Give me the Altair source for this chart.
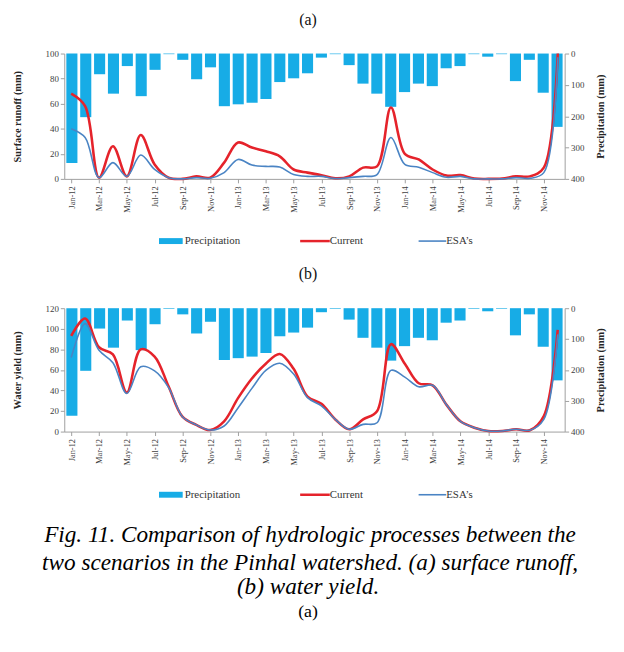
import altair as alt
import pandas as pd

months = ["Jan-12","Feb-12","Mar-12","Apr-12","May-12","Jun-12","Jul-12","Aug-12","Sep-12","Oct-12","Nov-12","Dec-12",
          "Jan-13","Feb-13","Mar-13","Apr-13","May-13","Jun-13","Jul-13","Aug-13","Sep-13","Oct-13","Nov-13","Dec-13",
          "Jan-14","Feb-14","Mar-14","Apr-14","May-14","Jun-14","Jul-14","Aug-14","Sep-14","Oct-14","Nov-14","Dec-14"]
tick_months = months[::2]

precip = [349, 203, 66, 128, 40, 136, 52, 2, 20, 82, 44, 168, 162, 157, 145, 91, 79, 63, 13, 2, 37, 96, 128, 170,
          123, 96, 104, 47, 40, 2, 10, 2, 88, 20, 125, 234]

runoff_current = [68, 58, 1, 26, 2, 35, 11.5, 1, 0, 2, 1, 13, 29, 25, 22, 18, 7.5, 5, 3, 0.5, 2, 9, 10, 57,
                  20, 15.5, 7.5, 2.7, 3, 0.3, 0, 0.3, 2, 2, 9, 100]
runoff_esa = [40, 33, 1, 13, 2, 19, 7.5, 1, 0, 1, 0.5, 5, 15.5, 11, 10, 9.5, 3.5, 2, 2, 0.3, 1, 2, 3.5, 33,
              11.5, 9.3, 5, 1.3, 2, 0, 0, 0, 1, 0.5, 5, 97]

yield_current = [93, 110, 82, 75, 38, 80, 73, 44, 14.5, 6.5, 1.5, 10, 32.5, 51.6, 66, 75.5, 61, 34, 27, 11.8, 2.2,
                 11.8, 19.7, 85, 66, 47, 45, 26, 10, 3.8, 0.6, 0.6, 2.2, 1.3, 15, 99]
yield_esa = [72, 105, 79, 67, 37, 63, 59, 43, 14.5, 6.5, 1.5, 5.4, 23, 42, 59.5, 66.5, 56, 33, 25, 11.8, 2.2,
             7, 8.6, 59.5, 53, 43.6, 45, 26, 10, 3.8, 0.6, 0.6, 2.2, 1.3, 11.8, 94.5]

BLUE_BAR = "#17ACE6"
RED = "#E5232B"
ESA = "#4A84C4"
SERIF = "Liberation Serif"
AXIS_GRAY = "#A0A0A0"
LABEL = "#404040"

W, H = 616, 630
X0, X1 = 57, 564
A_TOP, A_BOT = 42, 169
B_TOP, B_BOT = 300, 425

df = pd.DataFrame({
    "month": months, "precip": precip,
    "rc": runoff_current, "re": runoff_esa,
    "yc": yield_current, "ye": yield_esa,
})

def xscale():
    return alt.Scale(domain=months, range=[X0, X1], paddingInner=0.2, paddingOuter=0.15)

def xaxis(bottom):
    return alt.Axis(orient="bottom", offset=bottom - H, values=tick_months, labelAngle=-90,
                    labelFont=SERIF, labelFontSize=8.5, labelColor=LABEL, labelPadding=3,
                    domainColor=AXIS_GRAY, tickColor=AXIS_GRAY, tickSize=4, title=None, grid=False)

def yleft(title, top, bot, maxv):
    return alt.Axis(orient="left", offset=-X0, values=list(range(0, maxv + 1, 20)), title=title,
                    titleFont=SERIF, titleFontSize=10.5, titleFontWeight="bold", titleColor="#262626",
                    titleX=-42, titleY=(top + bot) / 2, titleAngle=270,
                    labelFont=SERIF, labelFontSize=9, labelColor=LABEL, labelPadding=2,
                    domainColor=AXIS_GRAY, tickColor=AXIS_GRAY, tickSize=4, grid=False)

def yright(top, bot):
    return alt.Axis(orient="right", offset=X1 - W, values=[0, 100, 200, 300, 400], title="Precipitation (mm)",
                    titleFont=SERIF, titleFontSize=10.5, titleFontWeight="bold", titleColor="#262626",
                    titleX=41, titleY=(top + bot) / 2, titleAngle=270,
                    labelFont=SERIF, labelFontSize=9, labelColor=LABEL, labelPadding=2,
                    domainColor=AXIS_GRAY, tickColor=AXIS_GRAY, tickSize=4, grid=False)

base = alt.Chart(df)

def panel(top, bot, ccol, ecol, title, maxv):
    bars = base.mark_bar(color=BLUE_BAR).encode(
        x=alt.X("month:N", scale=xscale(), axis=None, sort=months),
        y=alt.Y("precip:Q", scale=alt.Scale(domain=[0, 400], range=[top, bot], zero=True), axis=yright(top, bot)),
    )
    cur = base.mark_line(color=RED, strokeWidth=2.6, interpolate="catmull-rom").encode(
        x=alt.X("month:N", scale=xscale(), axis=xaxis(bot), sort=months),
        y=alt.Y(f"{ccol}:Q", scale=alt.Scale(domain=[0, maxv], range=[bot, top]), axis=yleft(title, top, bot, maxv)),
    )
    esa = base.mark_line(color=ESA, strokeWidth=1.6, interpolate="catmull-rom").encode(
        x=alt.X("month:N", scale=xscale(), axis=None, sort=months),
        y=alt.Y(f"{ecol}:Q", scale=alt.Scale(domain=[0, maxv], range=[bot, top]), axis=None),
    )
    return [bars, cur, esa]

one = pd.DataFrame({"t": [0]})

def text(s, x, y, size, align="center", style="normal", color="#111111"):
    return alt.Chart(one).mark_text(text=s, font=SERIF, fontSize=size, align=align, baseline="middle",
                                    fontStyle=style, color=color).encode(x=alt.value(x), y=alt.value(y))

def legend(y):
    return [
        alt.Chart(one).mark_rect(color=BLUE_BAR).encode(x=alt.value(153), x2=alt.value(177), y=alt.value(y - 3), y2=alt.value(y + 3)),
        text("Precipitation", 179, y, 11, align="left", color="#333333"),
        alt.Chart(one).mark_rule(color=RED, strokeWidth=2.5).encode(x=alt.value(296), x2=alt.value(326), y=alt.value(y)),
        text("Current", 326, y, 11, align="left", color="#333333"),
        alt.Chart(one).mark_rule(color=ESA, strokeWidth=1.6).encode(x=alt.value(416), x2=alt.value(444), y=alt.value(y)),
        text("ESA\u2019s", 444, y, 11, align="left", color="#333333"),
    ]

layers = []
layers += panel(A_TOP, A_BOT, "rc", "re", "Surface runoff (mm)", 100)
layers += panel(B_TOP, B_BOT, "yc", "ye", "Water yield (mm)", 120)
layers += [text("(a)", 304, 8, 16), text("(b)", 304, 265, 16)]
layers += legend(232) + legend(489)
layers += [
    text("Fig. 11. Comparison of hydrologic processes between the", 306, 530, 23.5, style="italic", color="#000000"),
    text("two scenarios in the Pinhal watershed. (a) surface runoff,", 306, 558, 23.5, style="italic", color="#000000"),
    text("(b) water yield.", 304, 583, 23.5, style="italic", color="#000000"),
    text("(a)", 304, 608, 18, color="#000000"),
]

chart = alt.layer(*layers).resolve_scale(x="independent", y="independent").properties(
    width=W, height=H, padding=0, autosize=alt.AutoSizeParams(type="none"),
).configure_view(stroke=None)

chart.save("out.html", embed_options={"renderer": "svg", "actions": False})
